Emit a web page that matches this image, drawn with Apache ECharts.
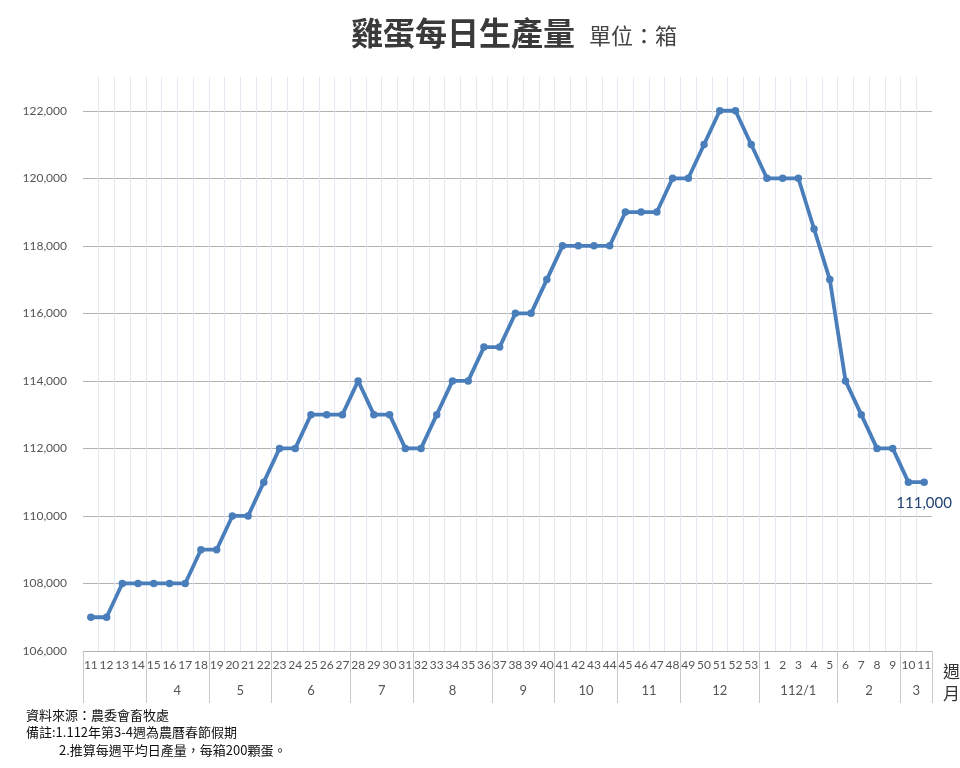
<!DOCTYPE html>
<html>
<head>
<meta charset="utf-8">
<title>雞蛋每日生產量</title>
<script src="https://cdn.jsdelivr.net/npm/echarts@6/dist/echarts.min.js"></script>
<style>
  html, body { margin: 0; padding: 0; background: #fff; }
  #chart { width: 960px; height: 768px; }
</style>
</head>
<body>
<div id="chart"></div>
<script>
// 週次 (111年第11週 ~ 112年第11週)
const weeks = [
    '11', '12', '13', '14', '15', '16', '17', '18', '19', '20', '21', '22',
    '23', '24', '25', '26', '27', '28', '29', '30', '31', '32', '33', '34',
    '35', '36', '37', '38', '39', '40', '41', '42', '43', '44', '45', '46',
    '47', '48', '49', '50', '51', '52', '53',
    '1', '2', '3', '4', '5', '6', '7', '8', '9', '10', '11'
];

// 每日生產量 (箱)
const dailyBoxes = [
    107000, 107000, 108000, 108000, 108000, 108000, 108000, 109000, 109000, 110000, 110000, 111000,
    112000, 112000, 113000, 113000, 113000, 114000, 113000, 113000, 112000, 112000, 113000, 114000,
    114000, 115000, 115000, 116000, 116000, 117000, 118000, 118000, 118000, 118000, 119000, 119000,
    119000, 120000, 120000, 121000, 122000, 122000, 121000,
    120000, 120000, 120000, 118500, 117000, 114000, 113000, 112000, 112000, 111000, 111000
];

// 月份分組 (每組包含的週數)
const monthNames = ['', '4', '5', '6', '7', '8', '9', '10', '11', '12', '112/1', '2', '3'];
const monthWeekCounts = [4, 4, 4, 5, 4, 5, 4, 4, 4, 5, 5, 4, 2];

// y 軸
const yMin = 106000;
const yMax = 123000;
const yStep = 2000;

// 分組邊界與中心
const groupStarts = [];
const groupCenters = {};
let acc = 0;
monthWeekCounts.forEach((n, i) => {
    groupStarts.push(acc);
    groupCenters[(acc + n / 2).toFixed(1)] = monthNames[i];
    acc += n;
});
const boundarySet = new Set(groupStarts);

const chart = echarts.init(document.getElementById('chart'));

const footFont = '"Noto Sans CJK TC", sans-serif';
const numFont = 'Lato, "Open Sans", sans-serif';

const lastIdx = dailyBoxes.length - 1;
const seriesData = dailyBoxes.map((v, i) => {
    if (i !== lastIdx) return v;
    return {
        value: v,
        label: {
            show: true,
            position: 'bottom',
            distance: 10,
            color: '#1f4272',
            fontSize: 15,
            fontFamily: numFont,
            formatter: p => p.value.toLocaleString('en-US')
        }
    };
});

chart.setOption({
    backgroundColor: '#ffffff',
    animation: false,
    title: [
        {
            text: '{a|雞蛋每日生產量}{b|單位：箱}',
            left: 346,
            top: 12,
            textStyle: {
                rich: {
                    a: { fontSize: 32, fontWeight: 'bold', color: '#3a3a3a', fontFamily: footFont },
                    b: { fontSize: 22, fontWeight: 'normal', color: '#444', fontFamily: footFont, padding: [6, 0, 0, 14] }
                }
            }
        },
        { text: '週', left: 938, top: 658, textStyle: { fontSize: 17, fontWeight: 'normal', color: '#333', fontFamily: footFont } },
        { text: '月', left: 938, top: 680, textStyle: { fontSize: 17, fontWeight: 'normal', color: '#333', fontFamily: footFont } },
        { text: '資料來源：農委會畜牧處', left: 21, top: 704, textStyle: { fontSize: 13, fontWeight: 'normal', color: '#111', fontFamily: footFont } },
        { text: '備註:1.112年第3-4週為農曆春節假期', left: 21, top: 721, textStyle: { fontSize: 13, fontWeight: 'normal', color: '#111', fontFamily: footFont } },
        { text: '2.推算每週平均日產量，每箱200顆蛋。', left: 54, top: 739, textStyle: { fontSize: 13, fontWeight: 'normal', color: '#111', fontFamily: footFont } }
    ],
    grid: { left: 83, right: 28, top: 77, bottom: 117, containLabel: false },
    xAxis: [
        {
            type: 'category',
            data: weeks,
            boundaryGap: true,
            axisLine: { show: true, lineStyle: { color: '#b3b3b3', width: 1 } },
            axisTick: {
                show: true,
                length: 52,
                interval: index => boundarySet.has(index),
                lineStyle: { color: '#c8c8c8', width: 1 }
            },
            axisLabel: {
                interval: 0,
                margin: 8,
                fontSize: 12,
                color: '#555',
                fontFamily: numFont
            },
            splitLine: {
                show: true,
                interval: 0,
                showMinLine: false,
                showMaxLine: false,
                lineStyle: { color: '#e4e9f1', width: 1 }
            }
        },
        {
            type: 'value',
            position: 'bottom',
            min: 0,
            max: weeks.length,
            interval: 0.5,
            axisLine: { show: false },
            axisTick: { show: false },
            splitLine: { show: false },
            axisLabel: {
                margin: 33,
                fontSize: 13,
                color: '#555',
                fontFamily: numFont,
                showMinLabel: true,
                showMaxLabel: true,
                formatter: v => groupCenters[Number(v).toFixed(1)] || ''
            }
        }
    ],
    yAxis: {
        type: 'value',
        min: yMin,
        max: yMax,
        interval: yStep,
        axisLine: { show: false },
        axisTick: { show: false },
        axisLabel: {
            margin: 16,
            fontSize: 12,
            color: '#555',
            fontFamily: numFont,
            showMaxLabel: false,
            formatter: v => v.toLocaleString('en-US')
        },
        splitLine: {
            show: true,
            showMaxLine: false,
            lineStyle: { color: '#b3b3b3', width: 1 }
        }
    },
    series: [
        {
            name: '雞蛋每日生產量',
            type: 'line',
            xAxisIndex: 0,
            data: seriesData,
            symbol: 'circle',
            symbolSize: 7.5,
            lineStyle: { color: '#4a7ebb', width: 3.8 },
            itemStyle: { color: '#4a7ebb' },
            z: 5
        }
    ]
});
</script>
</body>
</html>
